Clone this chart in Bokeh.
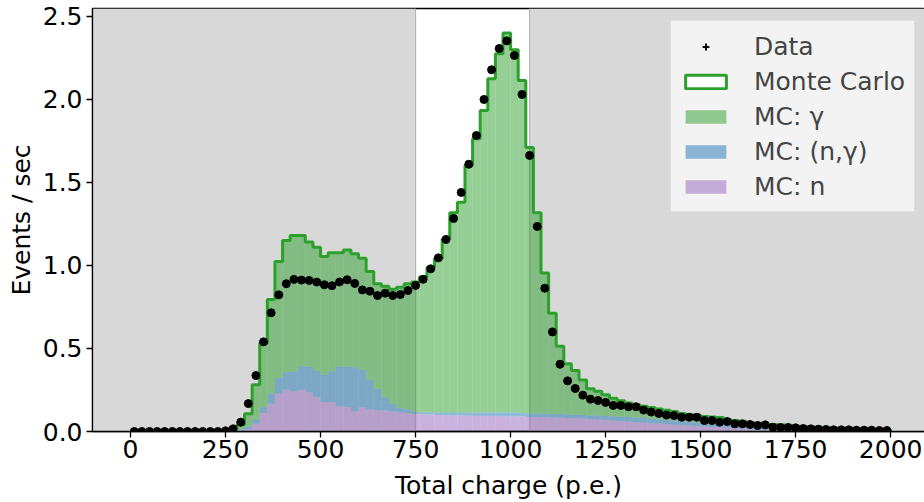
import numpy as np
from bokeh.plotting import figure
from bokeh.models import (ColumnDataSource, BoxAnnotation, Span, Legend, LegendItem,
                          FixedTicker, PrintfTickFormatter, Range1d)
from bokeh.embed import file_html
from bokeh.resources import INLINE

# histogram binning, in p.e.
bin_start = 0
bin_width = 20
n_bins = 100

# selection window; outside it the plot is shaded grey
window_lo = 750
window_hi = 1050

# measured rate per bin (events / sec)
data_rate = [
    0, 0, 0, 0, 0, 0, 0, 0, 0, 0, 0, 0, 0.004, 0.016, 0.056, 0.168, 0.337, 0.540, 0.715, 0.823,
    0.890, 0.916, 0.912, 0.910, 0.900, 0.884, 0.878, 0.901, 0.914, 0.892, 0.853, 0.845, 0.819, 0.833, 0.819, 0.825, 0.849, 0.880, 0.917, 0.980,
    1.046, 1.157, 1.283, 1.440, 1.610, 1.783, 2.000, 2.179, 2.307, 2.353, 2.265, 2.030, 1.663, 1.235, 0.863, 0.600, 0.405, 0.305, 0.259, 0.219,
    0.195, 0.187, 0.175, 0.157, 0.157, 0.149, 0.149, 0.129, 0.117, 0.109, 0.099, 0.096, 0.086, 0.086, 0.086, 0.066, 0.066, 0.056, 0.060, 0.046,
    0.046, 0.042, 0.036, 0.040, 0.026, 0.024, 0.024, 0.022, 0.018, 0.016, 0.014, 0.012, 0.010, 0.010, 0.010, 0.008, 0.008, 0.008, 0.006, 0.006,
]

# Monte Carlo components (events / sec), stacked n -> (n,gamma) -> gamma
mc_n = [
    0, 0, 0, 0, 0, 0, 0, 0, 0, 0, 0, 0, 0, 0.001, 0.005, 0.015, 0.046, 0.110, 0.167, 0.227,
    0.251, 0.241, 0.251, 0.235, 0.207, 0.177, 0.177, 0.151, 0.147, 0.122, 0.145, 0.133, 0.130, 0.127, 0.120, 0.115, 0.110, 0.106, 0.104, 0.102,
    0.100, 0.098, 0.097, 0.096, 0.095, 0.094, 0.094, 0.093, 0.093, 0.092, 0.092, 0.091, 0.088, 0.087, 0.086, 0.085, 0.083, 0.082, 0.080, 0.078,
    0.075, 0.072, 0.068, 0.065, 0.062, 0.059, 0.056, 0.053, 0.050, 0.047, 0.044, 0.041, 0.038, 0.035, 0.032, 0.030, 0.027, 0.025, 0.022, 0.019,
    0.016, 0.013, 0.011, 0.009, 0.007, 0.005, 0.004, 0.003, 0.002, 0.002, 0.001, 0.001, 0.001, 0, 0, 0, 0, 0, 0, 0,
]
mc_ngamma = [
    0, 0, 0, 0, 0, 0, 0, 0, 0, 0, 0, 0, 0, 0.003, 0.007, 0.015, 0.024, 0.036, 0.060, 0.096,
    0.106, 0.121, 0.142, 0.155, 0.158, 0.166, 0.186, 0.241, 0.245, 0.265, 0.227, 0.178, 0.127, 0.080, 0.047, 0.025, 0.024, 0.012, 0.012, 0.014,
    0.016, 0.018, 0.019, 0.020, 0.021, 0.021, 0.021, 0.022, 0.022, 0.022, 0.022, 0.021, 0.022, 0.022, 0.022, 0.021, 0.022, 0.022, 0.022, 0.022,
    0.023, 0.024, 0.026, 0.027, 0.028, 0.028, 0.028, 0.028, 0.028, 0.027, 0.026, 0.025, 0.025, 0.025, 0.024, 0.022, 0.021, 0.020, 0.019, 0.019,
    0.018, 0.017, 0.016, 0.014, 0.013, 0.012, 0.010, 0.008, 0.007, 0.005, 0.004, 0.003, 0.002, 0.002, 0.002, 0.001, 0.001, 0.001, 0, 0,
]
mc_gamma = [
    0, 0, 0, 0, 0, 0, 0, 0, 0, 0, 0, 0, 0.003, 0.012, 0.028, 0.077, 0.211, 0.386, 0.568, 0.701,
    0.794, 0.819, 0.788, 0.751, 0.745, 0.711, 0.713, 0.684, 0.702, 0.683, 0.672, 0.653, 0.633, 0.668, 0.690, 0.729, 0.756, 0.782, 0.814, 0.874,
    0.924, 1.044, 1.201, 1.265, 1.486, 1.648, 1.819, 2.010, 2.160, 2.286, 2.186, 2.002, 1.600, 1.208, 0.846, 0.607, 0.409, 0.304, 0.265, 0.210,
    0.159, 0.147, 0.127, 0.108, 0.095, 0.085, 0.078, 0.071, 0.067, 0.062, 0.058, 0.054, 0.045, 0.042, 0.042, 0.039, 0.040, 0.039, 0.031, 0.029,
    0.028, 0.024, 0.023, 0.024, 0.022, 0.023, 0.023, 0.020, 0.020, 0.020, 0.020, 0.018, 0.017, 0.017, 0.016, 0.015, 0.014, 0.013, 0.012, 0.010,
]

x_ticks = [0, 250, 500, 750, 1000, 1250, 1500, 1750, 2000]
y_ticks = [0.0, 0.5, 1.0, 1.5, 2.0, 2.5]

FONT = "DejaVu Sans"
FS = "25px"
GREEN, BLUE, PURPLE = "#2ca02c", "#1f77b4", "#9467bd"

edges = bin_start + bin_width * np.arange(n_bins + 1)
centers = edges[:-1] + bin_width / 2
total = np.array(mc_n) + np.array(mc_ngamma) + np.array(mc_gamma)

p = figure(width=924, height=502, x_range=Range1d(-100, 2089), y_range=Range1d(0, 2.548),
           output_backend="svg", toolbar_location=None,
           min_border_left=92, min_border_right=0, min_border_top=8, min_border_bottom=71)
p.xgrid.visible = False
p.ygrid.visible = False
p.outline_line_color = "black"
p.outline_line_width = 1.3
p.background_fill_color = "white"
p.border_fill_color = "white"

# shaded regions outside the window
p.add_layout(BoxAnnotation(right=window_lo, fill_color="#d8d8d8", fill_alpha=1.0,
                           line_color=None, level="underlay"))
p.add_layout(BoxAnnotation(left=window_hi, fill_color="#d8d8d8", fill_alpha=1.0,
                           line_color=None, level="underlay"))
for edge in (window_lo, window_hi):
    p.add_layout(Span(location=edge, dimension="height", line_color="#b5b5b5",
                      line_width=1.2, level="underlay"))

src = ColumnDataSource(dict(x=centers, n=mc_n, ng=mc_ngamma, g=mc_gamma))
stack = p.vbar_stack(["n", "ng", "g"], x="x", width=bin_width, source=src,
                     fill_color=[PURPLE, BLUE, GREEN], fill_alpha=0.5, line_color=None)

# Monte Carlo total as a step outline
p.step(edges, np.append(total, 0.0), mode="after", line_color=GREEN, line_width=3)

p.scatter(centers, data_rate, size=8, color="black")

# legend-only glyphs
data_key = p.scatter([np.nan], [np.nan], marker="cross", size=20, line_color="black", line_width=2)
mc_key = p.quad(left=[np.nan], right=[np.nan], top=[np.nan], bottom=[np.nan],
                fill_color="white", line_color=GREEN, line_width=3)

legend = Legend(items=[
    LegendItem(label="Data", renderers=[data_key]),
    LegendItem(label="Monte Carlo", renderers=[mc_key]),
    LegendItem(label="MC: γ", renderers=[stack[2]]),
    LegendItem(label="MC: (n,γ)", renderers=[stack[1]]),
    LegendItem(label="MC: n", renderers=[stack[0]]),
], location=(578, 219))
legend.label_text_font = FONT
legend.label_text_font_size = FS
legend.glyph_width = 51
legend.glyph_height = 17
legend.label_height = 32
legend.label_standoff = 23
legend.padding = 9
legend.spacing = 3
legend.margin = 0
legend.background_fill_color = "#f8f8f8"
legend.background_fill_alpha = 0.85
legend.border_line_color = "#cccccc"
legend.border_line_width = 1
p.add_layout(legend)

p.xaxis.ticker = FixedTicker(ticks=x_ticks)
p.yaxis.ticker = FixedTicker(ticks=y_ticks)
p.yaxis.formatter = PrintfTickFormatter(format="%.1f")
p.xaxis.axis_label = "Total charge (p.e.)"
p.yaxis.axis_label = "Events / sec"
for ax in (p.xaxis[0], p.yaxis[0]):
    ax.major_label_text_font = FONT
    ax.major_label_text_font_size = FS
    ax.major_label_text_color = "black"
    ax.axis_label_text_font = FONT
    ax.axis_label_text_font_size = FS
    ax.axis_label_text_font_style = "normal"
    ax.axis_label_text_color = "black"
    ax.major_tick_out = 6
    ax.major_tick_in = 0
    ax.major_tick_line_width = 1.3
    ax.axis_line_width = 1.3
    ax.minor_tick_line_color = None
p.xaxis.major_label_standoff = 2
p.xaxis.axis_label_standoff = 10
p.yaxis.major_label_standoff = 4
p.yaxis.axis_label_standoff = 4

open("out.html", "w").write(file_html(p, INLINE))
